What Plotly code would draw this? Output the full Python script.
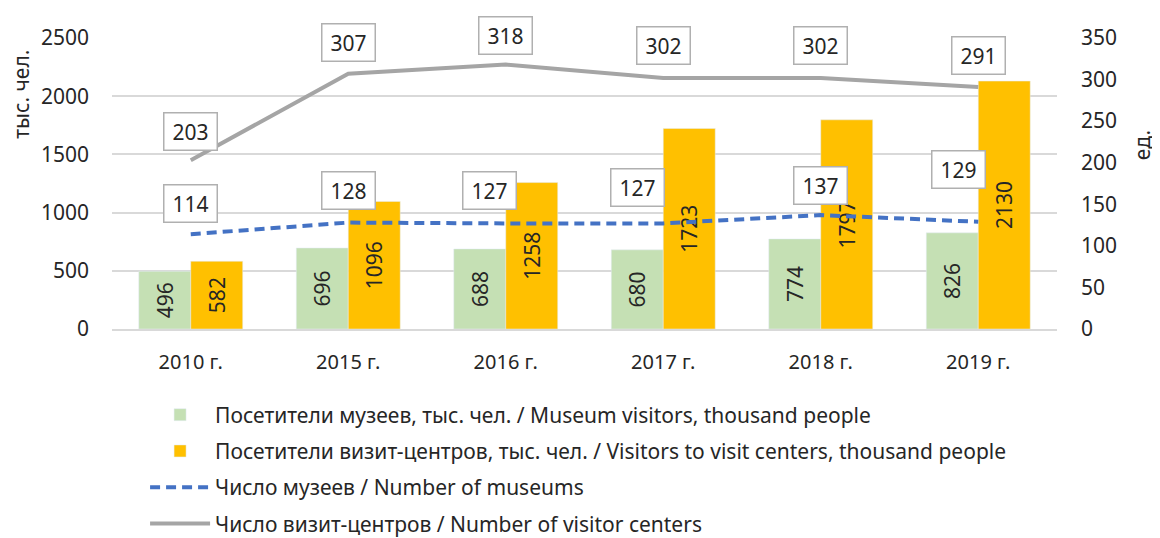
import plotly.graph_objects as go

years = ["2010 г.", "2015 г.", "2016 г.", "2017 г.", "2018 г.", "2019 г."]
museum_visitors = [496, 696, 688, 680, 774, 826]
center_visitors = [582, 1096, 1258, 1723, 1797, 2130]
museums = [114, 128, 127, 127, 137, 129]
visitor_centers = [203, 307, 318, 302, 302, 291]

names = [
    "Посетители музеев, тыс. чел. / Museum visitors, thousand people",
    "Посетители визит-центров, тыс. чел. / Visitors to visit centers, thousand people",
    "Число музеев / Number of museums",
    "Число визит-центров / Number of visitor centers",
]

# label placement tweaks (pixels) for line data labels
museum_label_dx = [0, 0, -16, -26, 0, -20]
museum_label_dy = [31, 32, 33, 36, 30, 52]
center_label_dx = [0, 0, 0, 0, 0, 0]
center_label_dy = [29, 31, 29, 32, 32, 32]

FONT = "Noto Sans"
TXT = "#262626"

fig = go.Figure()
fig.add_trace(go.Bar(
    x=years, y=museum_visitors, name=names[0], marker_color="#c5e0b4",
    text=museum_visitors, textposition="inside", textangle=-90,
    insidetextanchor="middle", textfont=dict(size=21, color=TXT, family=FONT),
    legendgroup="a",
))
fig.add_trace(go.Bar(
    x=years, y=center_visitors, name=names[1], marker_color="#ffc000",
    text=center_visitors, textposition="inside", textangle=-90,
    insidetextanchor="middle", textfont=dict(size=21, color=TXT, family=FONT),
    legendgroup="b",
))
fig.add_trace(go.Scatter(
    x=years, y=museums, name=names[2], yaxis="y2", mode="lines",
    line=dict(color="#4472c4", width=4, dash="10px,6px"), legendgroup="c",
))
fig.add_trace(go.Scatter(
    x=years, y=visitor_centers, name=names[3], yaxis="y2", mode="lines",
    line=dict(color="#a5a5a5", width=4), legendgroup="d",
))

for vals, dxs, dys in ((museums, museum_label_dx, museum_label_dy),
                       (visitor_centers, center_label_dx, center_label_dy)):
    for yr, v, dx, dy in zip(years, vals, dxs, dys):
        fig.add_annotation(
            x=yr, y=v, xref="x", yref="y2", text=str(v), showarrow=False,
            xshift=dx, yshift=dy, bgcolor="white", bordercolor="#b0b0b0",
            borderwidth=1.5, borderpad=2, width=48, height=32,
            font=dict(size=21, color=TXT, family=FONT),
        )

fig.add_annotation(text="тыс. чел.", xref="paper", yref="paper",
                   x=-0.0965, y=0.808, xanchor="center", yanchor="middle",
                   textangle=-90, showarrow=False,
                   font=dict(size=21, color=TXT, family=FONT))
fig.add_annotation(text="ед.", xref="paper", yref="paper",
                   x=1.09, y=0.632, xanchor="center", yanchor="middle",
                   textangle=-90, showarrow=False,
                   font=dict(size=21, color=TXT, family=FONT))

# page body has an 8px margin: shrink the figure so the plot lands where intended
fig.update_layout(
    width=1152, height=530,
    margin=dict(l=104, r=103, t=30, b=209, autoexpand=False),
    paper_bgcolor="white", plot_bgcolor="white",
    barmode="group", bargap=0.34, bargroupgap=0,
    font=dict(family=FONT, size=21, color=TXT),
    xaxis=dict(showgrid=False, showline=True, linecolor="#d9d9d9", linewidth=1.5,
               ticks="", ticklabelstandoff=14, tickfont=dict(size=20)),
    yaxis=dict(range=[0, 2500], dtick=500, showgrid=True, gridcolor="#d9d9d9",
               gridwidth=1.5, zeroline=False, ticks="", ticklabelstandoff=22,
               tickfont=dict(size=21)),
    yaxis2=dict(range=[0, 350], dtick=50, overlaying="y", side="right",
                showgrid=False, zeroline=False, ticks="", ticklabelstandoff=23,
                tickfont=dict(size=21)),
    legend=dict(orientation="v", x=0.035, xanchor="left", y=-0.225, yanchor="top",
                font=dict(size=21, color=TXT, family=FONT), tracegroupgap=6,
                itemwidth=60, bgcolor="rgba(0,0,0,0)", maxheight=400),
    showlegend=True,
)

fig.write_html("out.html")
